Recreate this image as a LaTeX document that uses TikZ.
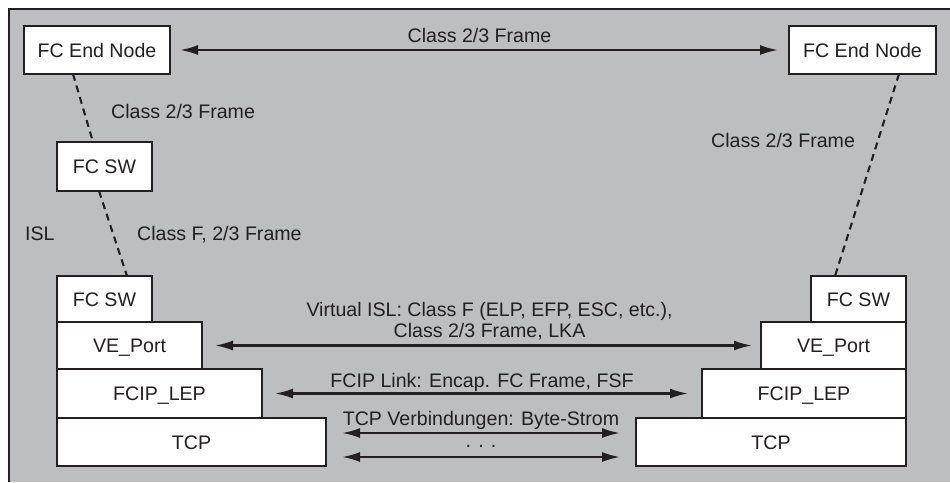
\documentclass[tikz,border=0pt]{standalone}
\usepackage{fontspec}
\setmainfont{Liberation Sans}
\usetikzlibrary{arrows.meta}
\usetikzlibrary{positioning}
\definecolor{bggray}{RGB}{189,190,194}
\definecolor{ink}{RGB}{35,31,32}

\begin{document}
\begin{tikzpicture}[x=1pt, y=-1pt, >={Latex[length=18pt,width=10pt]},
    box/.style={draw=ink, fill=white, line width=2.1pt, inner sep=0pt, outer sep=0pt,
                text=ink, text height=14.5pt, text depth=0pt},
    lbl/.style={anchor=base west, inner sep=0pt, text=ink},
    link/.style={<->, line width=2.2pt, draw=ink},
    wire/.style={line width=2.1pt, draw=ink, dash pattern=on 7pt off 5pt}]
  \fontsize{19.6}{21.5}\selectfont
  \useasboundingbox (0,0) rectangle (950,482);
  \fill[bggray] (9,9) rectangle (950,482);
  \draw[ink, line width=2.2pt] (9,482) -- (9,9) -- (950,9);

  % end nodes and middle switch
  \node[box, anchor=north west, minimum width=146pt, minimum height=48pt] (fce_l) at (24,26)  {FC End Node};
  \node[box, anchor=north west, minimum width=147pt, minimum height=48pt] (fce_r) at (789,26) {FC End Node};
  \node[box, anchor=north west, minimum width=95pt,  minimum height=49pt] (sw_m)  at (57,142) {FC SW};

  % left stack
  \node[box, anchor=north west, minimum width=95pt, minimum height=46pt] (sw_l) at (57,276) {FC SW};
  \node[box, minimum width=145pt, minimum height=47pt] (ve_l)  [below=0pt of sw_l.south west, anchor=north west] {VE\_Port};
  \node[box, minimum width=205pt, minimum height=49pt] (lep_l) [below=0pt of ve_l.south west, anchor=north west]  {FCIP\_LEP};
  \node[box, minimum width=269pt, minimum height=48pt] (tcp_l) [below=0pt of lep_l.south west, anchor=north west] {TCP};

  % right stack
  \node[box, anchor=north east, minimum width=95pt, minimum height=46pt] (sw_r) at (906,276) {FC SW};
  \node[box, minimum width=145pt, minimum height=47pt] (ve_r)  [below=0pt of sw_r.south east, anchor=north east] {VE\_Port};
  \node[box, minimum width=204pt, minimum height=49pt] (lep_r) [below=0pt of ve_r.south east, anchor=north east]  {FCIP\_LEP};
  \node[box, minimum width=270pt, minimum height=48pt] (tcp_r) [below=0pt of lep_r.south east, anchor=north east] {TCP};

  % dashed links
  \draw[wire] ([xshift=49pt]fce_l.south west) -- ([xshift=36pt]sw_m.north west);
  \draw[wire] ([xshift=42pt]sw_m.south west) -- ([xshift=70pt]sw_l.north west);
  \draw[wire] ([xshift=110pt]fce_r.south west) -- ([xshift=24pt]sw_r.north west);

  \node[lbl] (t_c23l) at (111,118) {Class 2/3 Frame};
  \node[lbl] (t_isl)  at (25,240)  {ISL};
  \node[lbl] (t_cf)   at (137,240) {Class F, 2/3 Frame};
  \node[lbl] (t_c23r) at (711,147) {Class 2/3 Frame};

  % arrows
  \draw[link, shorten <=10pt, shorten >=11pt] (fce_l) --
      node[anchor=base, yshift=8pt, text=ink] {Class 2/3 Frame} (fce_r);
  \draw[link, shorten <=13pt, shorten >=9pt] (ve_l) --
      node[anchor=base, xshift=8pt, yshift=8pt, align=center, text=ink] {Virtual ISL: Class F (ELP, EFP, ESC, etc.),\\Class 2/3 Frame, LKA} (ve_r);
  \draw[link, shorten <=13pt, shorten >=14pt] (lep_l) --
      node[anchor=base, yshift=6pt, text=ink] {FCIP Link: Encap. FC Frame, FSF} (lep_r);
  \draw[link, shorten <=16pt, shorten >=16pt] ([yshift=9pt]tcp_l.east) --
      node[anchor=base, yshift=8pt, text=ink] {TCP Verbindungen: Byte-Strom} ([yshift=9pt]tcp_r.west);
  \draw[link, shorten <=16pt, shorten >=16pt] ([yshift=-15pt]tcp_l.east) --
      node[anchor=base, yshift=10pt, text=ink] {. . .} ([yshift=-15pt]tcp_r.west);
\end{tikzpicture}
\end{document}
